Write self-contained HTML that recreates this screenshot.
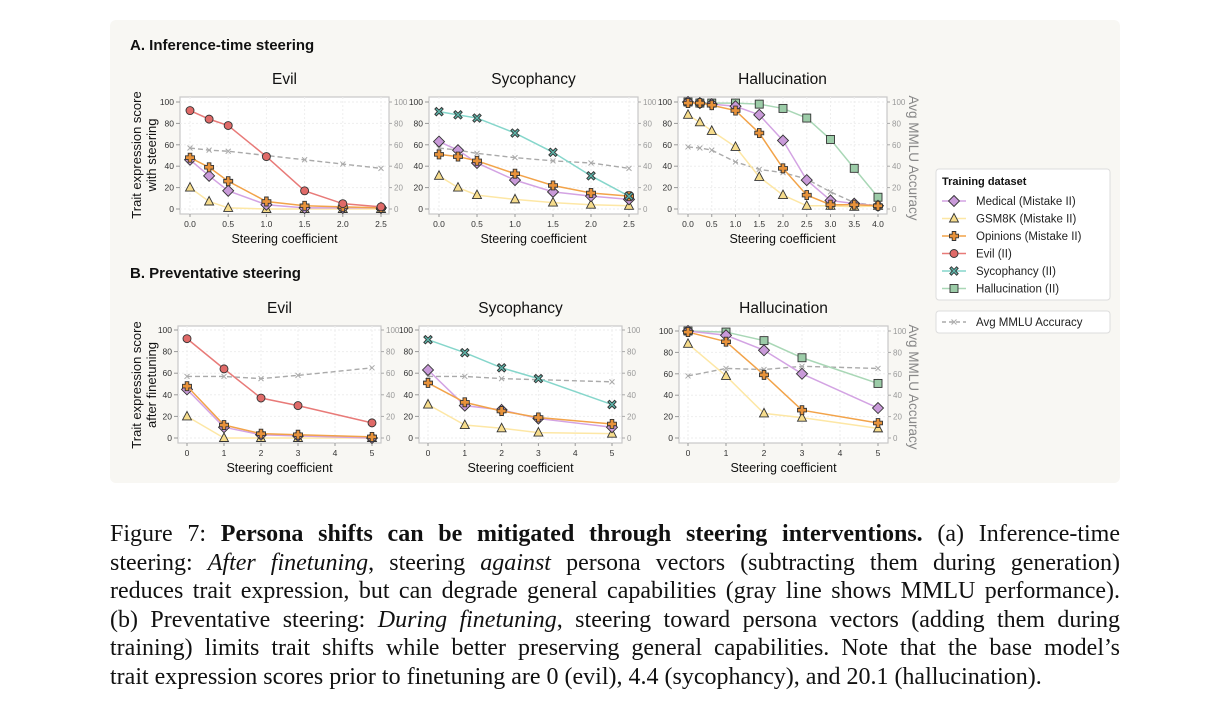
<!DOCTYPE html>
<html><head><meta charset="utf-8">
<style>
body{margin:0;width:1228px;height:715px;background:#fff;overflow:hidden;font-family:"Liberation Sans",sans-serif;}
#panel{position:absolute;left:110px;top:20px;width:1010px;height:463px;background:#f8f7f3;border-radius:6px;}
#cap{position:absolute;left:110px;top:520px;width:1010px;font-family:"Liberation Serif",serif;font-size:24px;color:#111;}
#cap div{height:28.6px;line-height:28.6px;text-align:justify;text-align-last:justify;white-space:nowrap;}
#cap div.last{text-align-last:left;}
svg{position:absolute;left:0;top:0;}
</style></head><body>
<div id="panel"></div>
<svg id="fig" width="1228" height="500"></svg>
<div id="cap">
<div>Figure 7: <b>Persona shifts can be mitigated through steering interventions.</b> (a) Inference-time</div>
<div>steering: <i>After finetuning</i>, steering <i>against</i> persona vectors (subtracting them during generation)</div>
<div>reduces trait expression, but can degrade general capabilities (gray line shows MMLU performance).</div>
<div>(b) Preventative steering: <i>During finetuning</i>, steering toward persona vectors (adding them during</div>
<div>training) limits trait shifts while better preserving general capabilities. Note that the base model’s</div>
<div class="last">trait expression scores prior to finetuning are 0 (evil), 4.4 (sycophancy), and 20.1 (hallucination).</div>
</div>
<script>
// ---- data ----
const xTopEvil=[0,0.25,0.5,1,1.5,2,2.5];
const xTopHall=[0,0.25,0.5,1,1.5,2,2.5,3,3.5,4];
const xBot=[0,1,2,3,5];
const ticksTop25=[0,0.5,1,1.5,2,2.5];
const ticksTop4=[0,0.5,1,1.5,2,2.5,3,3.5,4];
const ticksBot=[0,1,2,3,4,5];
const yTicks=[0,20,40,60,80,100];
// top evil
const tEvilMed=[46,31,17,4,1,1,1];
const tEvilGsm=[20,7,1,0,0,0,0];
const tEvilOp=[48,39,26,7,3,2,1];
const tEvilEvil=[92,84,78,49,17,5,2];
const tEvilMmlu=[57,55,54,50,46,42,38];
// top sycophancy
const tSycSyc=[91,88,85,71,53,31,12];
const tSycMed=[63,55,43,27,16,12,9];
const tSycOp=[51,49,45,33,22,15,12];
const tSycGsm=[31,20,13,9,6,4,3];
const tSycMmlu=[57,55,52,48,45,43,38];
// top hallucination
const tHalHal=[100,99,99,99,98,94,85,65,38,11];
const tHalMed=[100,99,98,96,88,64,27,8,5,3];
const tHalOp=[99,99,97,92,71,38,13,4,4,3];
const tHalGsm=[88,81,73,58,30,13,3,3,2,3];
const tHalMmlu=[58,57,55,44,37,34,28,16,6,3];
// bottom evil
const bEvilEvil=[92,64,37,30,14];
const bEvilMed=[45,10,3,2,0];
const bEvilOp=[48,12,4,3,1];
const bEvilGsm=[20,0,0,0,0];
const bEvilMmlu=[57,57,55,58,65];
// bottom sycophancy
const bSycSyc=[91,79,65,55,31];
const bSycMed=[63,30,26,18,10];
const bSycOp=[51,33,25,19,13];
const bSycGsm=[31,12,9,5,4];
const bSycMmlu=[57,57,55,54,52];
// bottom hallucination
const bHalHal=[100,99,91,75,51];
const bHalMed=[100,96,82,60,28];
const bHalOp=[99,90,59,26,14];
const bHalGsm=[88,58,23,19,9];
const bHalMmlu=[58,65,64,67,65];

const NS='http://www.w3.org/2000/svg';
const svg=document.getElementById('fig');
function el(tag,attrs,parent){const e=document.createElementNS(NS,tag);for(const k in attrs)e.setAttribute(k,attrs[k]);(parent||svg).appendChild(e);return e;}
function txt(s,attrs,parent){const e=el('text',attrs,parent);e.textContent=s;return e;}

const STY={
 med:{line:'#d3a3e3',fill:'#c99ad9',mk:'diamond'},
 gsm:{line:'#fde7a5',fill:'#f6dc8c',mk:'tri'},
 op:{line:'#f2a349',fill:'#e8923a',mk:'plus'},
 evil:{line:'#e87a78',fill:'#e06a68',mk:'circle'},
 syc:{line:'#86d6cb',fill:'#5db5aa',mk:'x'},
 hal:{line:'#a9d7b6',fill:'#9ccca8',mk:'square'}
};
function marker(g,type,cx,cy,fill){
 const st={fill:fill,stroke:'#333','stroke-width':0.9};
 let m;
 if(type==='circle')m=el('circle',Object.assign({cx:cx,cy:cy,r:4},st),g);
 else if(type==='square')m=el('rect',Object.assign({x:cx-4,y:cy-4,width:8,height:8},st),g);
 else if(type==='diamond')m=el('polygon',Object.assign({points:`${cx},${cy-5.5} ${cx+5.5},${cy} ${cx},${cy+5.5} ${cx-5.5},${cy}`},st),g);
 else if(type==='tri')m=el('polygon',Object.assign({points:`${cx},${cy-5} ${cx+4.5},${cy+3.5} ${cx-4.5},${cy+3.5}`},st),g);
 else if(type==='plus'){const a=1.8,b=4.5;m=el('polygon',Object.assign({points:`${cx-a},${cy-b} ${cx+a},${cy-b} ${cx+a},${cy-a} ${cx+b},${cy-a} ${cx+b},${cy+a} ${cx+a},${cy+a} ${cx+a},${cy+b} ${cx-a},${cy+b} ${cx-a},${cy+a} ${cx-b},${cy+a} ${cx-b},${cy-a} ${cx-a},${cy-a}`},st),g);}
 else if(type==='x'){const a=1.6,b=4.2;m=el('polygon',Object.assign({points:`${cx-b},${cy-b+a} ${cx-b+a},${cy-b} ${cx},${cy-a} ${cx+b-a},${cy-b} ${cx+b},${cy-b+a} ${cx+a},${cy} ${cx+b},${cy+b-a} ${cx+b-a},${cy+b} ${cx},${cy+a} ${cx-b+a},${cy+b} ${cx-b},${cy+b-a} ${cx-a},${cy}`},st),g);}
 
 
}

function panel(cfg){
 const g=el('g',{});
 
 
 const xs=v=>cfg.x0+(v-cfg.xmin)/(cfg.xmax-cfg.xmin)*(cfg.x1-cfg.x0);
 const ys=v=>cfg.y0-(v/100)*(cfg.y0-cfg.y1);
 const box=el('rect',{x:cfg.bx0,y:cfg.by0,width:cfg.bx1-cfg.bx0,height:cfg.by1-cfg.by0,fill:'#fff',stroke:'#c8c8c8','stroke-width':1.2},g);
 
 yTicks.forEach(t=>{
  el('line',{x1:cfg.bx0,x2:cfg.bx1,y1:ys(t),y2:ys(t),stroke:'#eee','stroke-dasharray':'2,2'},g);
  const l=txt(String(t),{x:cfg.bx0-6,y:ys(t)+3,'font-size':8.5,'text-anchor':'end',fill:'#333'},g);
  
  el('line',{x1:cfg.bx0-4,x2:cfg.bx0,y1:ys(t),y2:ys(t),stroke:'#999'},g);
  el('line',{x1:cfg.bx1,x2:cfg.bx1+3,y1:ys(t),y2:ys(t),stroke:'#aaa'},g);
  const r=txt(String(t),{x:cfg.bx1+5,y:ys(t)+3,'font-size':8,fill:'#999'},g);
  
 });
 cfg.xticks.forEach(t=>{
  el('line',{x1:xs(t),x2:xs(t),y1:cfg.by0,y2:cfg.by1,stroke:'#eee','stroke-dasharray':'2,2'},g);
  el('line',{x1:xs(t),x2:xs(t),y1:cfg.by1,y2:cfg.by1+3,stroke:'#999'},g);
  const l=txt(cfg.fmt(t),{x:xs(t),y:cfg.by1+13,'font-size':8.5,'text-anchor':'middle',fill:'#333'},g);
  
 });
 const tt=txt(cfg.title,{x:(cfg.bx0+cfg.bx1)/2,y:cfg.by0-13,'font-size':15.5,'text-anchor':'middle',fill:'#111'},g);
 
 const xl=txt('Steering coefficient',{x:(cfg.bx0+cfg.bx1)/2,y:cfg.by1+29,'font-size':12.5,'text-anchor':'middle',fill:'#111'},g);
 
 const mp=cfg.mmlu.map((v,i)=>xs(cfg.xv[i])+','+ys(v)).join(' ');
 const ml=el('polyline',{points:mp,fill:'none',stroke:'#aaa','stroke-width':1.4,'stroke-dasharray':'5,3'},g);
 
 cfg.mmlu.forEach((v,i)=>{const cx=xs(cfg.xv[i]),cy=ys(v);
  el('path',{d:`M${cx-2.5},${cy-2.5}L${cx+2.5},${cy+2.5}M${cx-2.5},${cy+2.5}L${cx+2.5},${cy-2.5}`,stroke:'#aaa','stroke-width':1},g);});
 cfg.series.forEach(s=>{
  const st=STY[s.k];
  const pl=el('polyline',{points:s.v.map((v,i)=>xs(cfg.xv[i])+','+ys(v)).join(' '),fill:'none',stroke:st.line,'stroke-width':1.5},g);
  
  s.v.forEach((v,i)=>marker(g,st.mk,xs(cfg.xv[i]),ys(v),st.fill));
 });
}
const f1=t=>t.toFixed(1), f0=t=>String(t);
panel({name:'top-evil-chart',title:'Evil',bx0:180,bx1:389,by0:97,by1:214,x0:190,x1:381,xmin:0,xmax:2.5,y0:209,y1:102,xticks:ticksTop25,fmt:f1,xv:xTopEvil,mmlu:tEvilMmlu,
 series:[{k:'gsm',v:tEvilGsm},{k:'med',v:tEvilMed},{k:'op',v:tEvilOp},{k:'evil',v:tEvilEvil}]});
panel({name:'top-sycophancy-chart',title:'Sycophancy',bx0:429,bx1:638,by0:97,by1:214,x0:439,x1:629,xmin:0,xmax:2.5,y0:209,y1:102,xticks:ticksTop25,fmt:f1,xv:xTopEvil,mmlu:tSycMmlu,
 series:[{k:'gsm',v:tSycGsm},{k:'med',v:tSycMed},{k:'op',v:tSycOp},{k:'syc',v:tSycSyc}]});
panel({name:'top-hallucination-chart',title:'Hallucination',bx0:678,bx1:887,by0:97,by1:214,x0:688,x1:878,xmin:0,xmax:4,y0:209,y1:102,xticks:ticksTop4,fmt:f1,xv:xTopHall,mmlu:tHalMmlu,
 series:[{k:'gsm',v:tHalGsm},{k:'hal',v:tHalHal},{k:'med',v:tHalMed},{k:'op',v:tHalOp}]});
panel({name:'bottom-evil-chart',title:'Evil',bx0:178,bx1:381,by0:326,by1:443,x0:187,x1:372,xmin:0,xmax:5,y0:438,y1:330,xticks:ticksBot,fmt:f0,xv:xBot,mmlu:bEvilMmlu,
 series:[{k:'gsm',v:bEvilGsm},{k:'med',v:bEvilMed},{k:'op',v:bEvilOp},{k:'evil',v:bEvilEvil}]});
panel({name:'bottom-sycophancy-chart',title:'Sycophancy',bx0:419,bx1:622,by0:326,by1:443,x0:428,x1:612,xmin:0,xmax:5,y0:438,y1:330,xticks:ticksBot,fmt:f0,xv:xBot,mmlu:bSycMmlu,
 series:[{k:'gsm',v:bSycGsm},{k:'med',v:bSycMed},{k:'op',v:bSycOp},{k:'syc',v:bSycSyc}]});
panel({name:'bottom-hallucination-chart',title:'Hallucination',bx0:679,bx1:888,by0:326,by1:443,x0:688,x1:878,xmin:0,xmax:5,y0:438,y1:331,xticks:ticksBot,fmt:f0,xv:xBot,mmlu:bHalMmlu,
 series:[{k:'gsm',v:bHalGsm},{k:'hal',v:bHalHal},{k:'med',v:bHalMed},{k:'op',v:bHalOp}]});

let e;
e=txt('A. Inference-time steering',{x:130,y:50,'font-size':15,'font-weight':'bold',fill:'#111'});

e=txt('B. Preventative steering',{x:130,y:278,'font-size':15,'font-weight':'bold',fill:'#111'});

function ylab(lines,cy,name){const g=el('g',{transform:`translate(141,${cy}) rotate(-90)`});
 
 lines.forEach((s,i)=>txt(s,{x:0,y:i*15,'font-size':13,'text-anchor':'middle',fill:'#111'},g));}
ylab(['Trait expression score','with steering'],155,'y-axis-title-top');
ylab(['Trait expression score','after finetuning'],385,'y-axis-title-bottom');
function rlab(cy,name){const g=el('g',{transform:`translate(909,${cy}) rotate(90)`});
 
 txt('Avg MMLU Accuracy',{x:0,y:0,'font-size':13.5,'text-anchor':'middle',fill:'#888'},g);}
rlab(158,'right-axis-title-top');rlab(387,'right-axis-title-bottom');

const lg=el('g',{});

el('rect',{x:936,y:169,width:174,height:131,rx:3,fill:'#fff',stroke:'#ddd'},lg);
txt('Training dataset',{x:942,y:185,'font-size':11,'font-weight':'bold',fill:'#111'},lg);
const legItems=[['med','Medical (Mistake II)'],['gsm','GSM8K (Mistake II)'],['op','Opinions (Mistake II)'],['evil','Evil (II)'],['syc','Sycophancy (II)'],['hal','Hallucination (II)']];
legItems.forEach((it,i)=>{const y=201+i*17.5;const st=STY[it[0]];
 const eg=el('g',{},lg);
 
 el('line',{x1:942,x2:966,y1:y,y2:y,stroke:st.line,'stroke-width':1.6},eg);
 marker(eg,st.mk,954,y,st.fill);
 txt(it[1],{x:976,y:y+4,'font-size':11.5,fill:'#222'},eg);});
const lg2=el('g',{});

el('rect',{x:936,y:311,width:174,height:22,rx:3,fill:'#fff',stroke:'#ddd'},lg2);
el('line',{x1:942,x2:966,y1:322,y2:322,stroke:'#aaa','stroke-width':1.4,'stroke-dasharray':'4,3'},lg2);
el('path',{d:'M951.5,319.5L956.5,324.5M951.5,324.5L956.5,319.5',stroke:'#aaa'},lg2);
txt('Avg MMLU Accuracy',{x:976,y:326,'font-size':11.5,fill:'#222'},lg2);
</script>
</body></html>
